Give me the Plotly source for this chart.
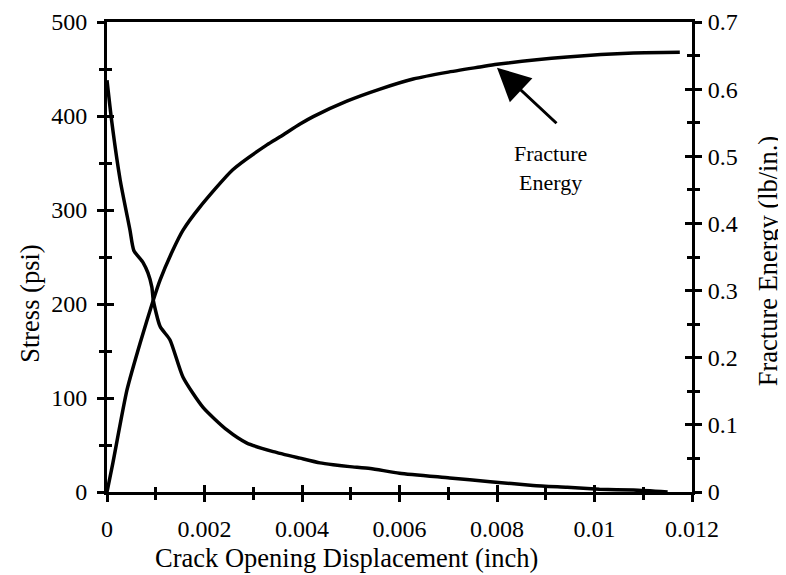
import plotly.graph_objects as go

# stress vs crack opening displacement (left axis, psi)
cod_stress = [0.0, 0.0001, 0.00027, 0.00047, 0.00055, 0.00074, 0.00084, 0.00092, 0.00095,
              0.00109, 0.00129, 0.00156, 0.00197, 0.00246, 0.00287, 0.00341, 0.00396,
              0.00437, 0.00464, 0.00498, 0.0054, 0.006, 0.00703, 0.00786, 0.00874,
              0.00944, 0.0101, 0.0108, 0.0115]
stress = [438, 393, 332, 279, 257, 244, 233, 218, 204,
          176, 162, 122, 90, 66, 52, 43, 36,
          31, 29, 27, 25, 20, 15, 11, 7,
          5, 3, 2, 0]

# fracture energy vs crack opening displacement (right axis, lb/in.)
cod_energy = [0.0, 0.00012, 0.00041, 0.00068, 0.00095, 0.00109, 0.00135, 0.00156, 0.0019,
              0.00258, 0.00328, 0.00355, 0.00396, 0.00423, 0.00492, 0.0056, 0.00628,
              0.00697, 0.00765, 0.0080, 0.00944, 0.0108, 0.01175]
energy = [0.0, 0.043, 0.152, 0.222, 0.286, 0.316, 0.36, 0.39, 0.424,
          0.48, 0.517, 0.529, 0.548, 0.559, 0.582, 0.600, 0.615,
          0.625, 0.633, 0.637, 0.648, 0.654, 0.655]

x_ticks = [0, 0.002, 0.004, 0.006, 0.008, 0.01, 0.012]
x_labels = ["0", "0.002", "0.004", "0.006", "0.008", "0.01", "0.012"]
y_ticks = [0, 100, 200, 300, 400, 500]
y2_ticks = [0, 0.1, 0.2, 0.3, 0.4, 0.5, 0.6, 0.7]
y2_labels = ["0", "0.1", "0.2", "0.3", "0.4", "0.5", "0.6", "0.7"]

font = "Liberation Serif, Times New Roman, serif"
blk = "black"

fig = go.Figure()
fig.add_trace(go.Scatter(x=cod_stress, y=stress, mode="lines",
                         line=dict(color=blk, width=3.5, shape="spline", smoothing=0.6),
                         xaxis="x", yaxis="y"))
fig.add_trace(go.Scatter(x=cod_energy, y=energy, mode="lines",
                         line=dict(color=blk, width=3.5, shape="spline", smoothing=0.6),
                         xaxis="x", yaxis="y2"))
# invisible copies so the inside-tick overlay axes (ticks crossing the axis lines) get drawn
fig.add_trace(go.Scatter(x=cod_stress, y=stress, mode="lines", opacity=0,
                         xaxis="x3", yaxis="y3", hoverinfo="skip"))
fig.add_trace(go.Scatter(x=cod_energy, y=energy, mode="lines", opacity=0,
                         xaxis="x3", yaxis="y4", hoverinfo="skip"))

tickfont = dict(family=font, size=24, color=blk)
major = dict(ticklen=7, tickwidth=3, tickcolor=blk)
minor_len = 5

fig.update_layout(
    width=786, height=575,
    margin=dict(l=99, r=102, t=14, b=91),
    paper_bgcolor="white", plot_bgcolor="white",
    showlegend=False,
    font=dict(family=font, color=blk),
    xaxis=dict(range=[0, 0.012], tickvals=x_ticks, ticktext=x_labels,
               ticks="outside", **major, ticklabelstandoff=6,
               minor=dict(dtick=0.001, ticks="outside", ticklen=minor_len, tickwidth=3, tickcolor=blk),
               showline=True, linecolor=blk, linewidth=3, mirror=True,
               showgrid=False, zeroline=False, tickfont=tickfont, automargin=False),
    yaxis=dict(range=[0, 500], tickvals=y_ticks,
               ticks="outside", **major, ticklabelstandoff=5,
               minor=dict(dtick=50, ticks="outside", ticklen=minor_len, tickwidth=3, tickcolor=blk),
               showline=True, linecolor=blk, linewidth=3,
               showgrid=False, zeroline=False, tickfont=tickfont, automargin=False),
    yaxis2=dict(range=[0, 0.7], tickvals=y2_ticks, ticktext=y2_labels,
                overlaying="y", side="right", anchor="x",
                ticks="outside", **major, ticklabelstandoff=1,
                minor=dict(dtick=0.05, ticks="outside", ticklen=minor_len, tickwidth=3, tickcolor=blk),
                showline=True, linecolor=blk, linewidth=3,
                showgrid=False, zeroline=False, tickfont=tickfont, automargin=False),
    xaxis3=dict(range=[0, 0.012], tickvals=x_ticks, overlaying="x", anchor="y",
                ticks="inside", **major,
                minor=dict(dtick=0.001, ticks="inside", ticklen=minor_len, tickwidth=3, tickcolor=blk),
                showticklabels=False, showline=False, showgrid=False, zeroline=False,
                automargin=False),
    yaxis3=dict(range=[0, 500], tickvals=y_ticks, overlaying="y", side="left", anchor="x3",
                ticks="inside", **major,
                minor=dict(dtick=50, ticks="inside", ticklen=minor_len, tickwidth=3, tickcolor=blk),
                showticklabels=False, showline=False, showgrid=False, zeroline=False,
                automargin=False),
    yaxis4=dict(range=[0, 0.7], tickvals=y2_ticks, overlaying="y", side="right", anchor="x3",
                ticks="inside", **major,
                minor=dict(dtick=0.05, ticks="inside", ticklen=minor_len, tickwidth=3, tickcolor=blk),
                showticklabels=False, showline=False, showgrid=False, zeroline=False,
                automargin=False),
)

# axis titles
title_font = dict(family=font, size=26.5, color=blk)
fig.add_annotation(text="Crack Opening Displacement (inch)", xref="paper", yref="paper",
                   x=0.41, y=-0.14, yanchor="middle", showarrow=False, font=title_font)
fig.add_annotation(text="Stress (psi)", xref="paper", yref="paper", textangle=-90,
                   x=-0.132, y=0.402, xanchor="center", yanchor="middle",
                   showarrow=False, font=title_font)
fig.add_annotation(text="Fracture Energy (lb/in.)", xref="paper", yref="paper", textangle=-90,
                   x=1.13, y=0.491, xanchor="center", yanchor="middle",
                   showarrow=False, font=title_font)

# arrow + label
fig.add_annotation(x=0.0080, y=0.632, xref="x", yref="y2", text="",
                   showarrow=True, arrowhead=2, arrowsize=2.2, arrowwidth=3,
                   arrowcolor=blk, ax=61, ay=57, axref="pixel", ayref="pixel")
fig.add_annotation(x=0.00909, y=0.483, xref="x", yref="y2",
                   text="Fracture<br>Energy", showarrow=False,
                   font=dict(family=font, size=22, color=blk), align="center")

fig.write_html("out.html")
